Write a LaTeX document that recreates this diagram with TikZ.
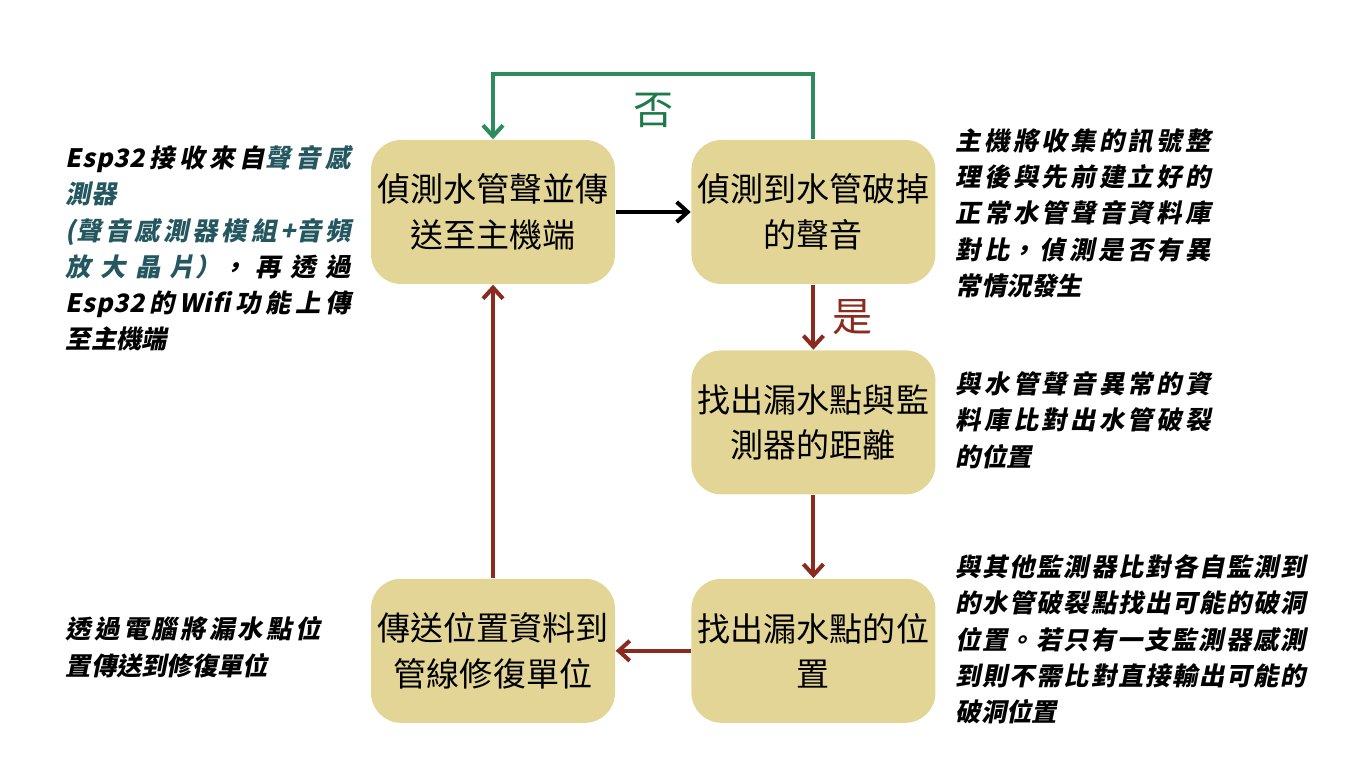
\documentclass[tikz,border=0pt]{standalone}
\usepackage{fontspec}
\usepackage{xcolor}
\usepackage{tikz}
\usetikzlibrary{positioning,arrows.meta}

\newfontfamily\boxfont{Noto Sans CJK TC}
\newfontfamily\notefont[FakeSlant=0.2,LetterSpace=3]{Noto Sans CJK TC}

\definecolor{boxfill}{HTML}{E3D596}
\definecolor{pipered}{HTML}{8B2A1E}
\definecolor{nogreen}{HTML}{2E8B5C}
\definecolor{notext}{HTML}{1F7A4A}
\definecolor{noteteal}{HTML}{24575F}

\XeTeXlinebreaklocale "zh"
\XeTeXlinebreakskip=0pt plus 4pt
\tolerance=9999
\hbadness=10000

\begin{document}
\begin{tikzpicture}[node distance=0.75cm,
    stage/.style={rectangle, rounded corners=0.3cm, fill=boxfill, inner xsep=0.05cm, minimum width=2.44cm, minimum height=1.44cm, align=center, font=\boxfont\fontsize{9.4}{13}\selectfont},
    note/.style={anchor=north west, inner sep=0pt, text width=#1, align=justify, font=\notefont\bfseries\fontsize{7.2}{10.3}\selectfont},
    flow/.style={-{Straight Barb[length=1.1mm,width=2mm]}, line width=1.15pt}]
      \useasboundingbox (0,0) rectangle (13.66,7.68);

      \node (detect) [stage] at (4.93,5.56) {偵測水管聲並傳\\送至主機端};
      \node (broken) [stage, right=0.75cm of detect] {偵測到水管破掉\\的聲音};
      \node (locate) [stage, below=0.65cm of broken] {找出漏水點與監\\測器的距離};
      \node (point) [stage, below=0.83cm of locate] {找出漏水點的位\\置};
      \node (repair) [stage, left=0.75cm of point] {傳送位置資料到\\管線修復單位};

      \draw[flow] (detect) -- (broken);
      \draw[flow, pipered] (broken) -- node[right=0.05cm, text=pipered, font=\boxfont\fontsize{11.4}{13}\selectfont] {是} (locate);
      \draw[flow, pipered] (locate) -- (point);
      \draw[flow, pipered] (point) -- (repair);
      \draw[flow, pipered] (repair) -- (detect);
      \draw[flow, nogreen] (broken.north) -- ++(0,0.65) -| node[pos=0.25, below=0.05cm, text=notext, font=\boxfont\fontsize{11.4}{13}\selectfont] {否} (detect.north);

      \node (espnote) [note=2.85cm] at (0.65,6.23) {Esp32接收來自\textcolor{noteteal}{聲音感\linebreak 測器}\\\textcolor{noteteal}{(聲音感測器模組+音頻\linebreak 放大晶片）}，再透過\linebreak Esp32的Wifi功能上傳\linebreak 至主機端};
      \node (comparenote) [note=2.55cm] at (9.55,6.40) {主機將收集的訊號整\linebreak 理後與先前建立好的\linebreak 正常水管聲音資料庫\linebreak 對比，偵測是否有異\linebreak 常情況發生};
      \node (distnote) [note=2.55cm] at (9.55,3.97) {與水管聲音異常的資\linebreak 料庫比對出水管破裂\linebreak 的位置};
      \node (holenote) [note=3.50cm] at (9.55,2.14) {與其他監測器比對各自監測到\linebreak 的水管破裂點找出可能的破洞\linebreak 位置。若只有一支監測器感測\linebreak 到則不需比對直接輸出可能的\linebreak 破洞位置};
      \node (sendnote) [note=2.55cm] at (0.65,1.52) {透過電腦將漏水點位\linebreak 置傳送到修復單位};
\end{tikzpicture}
\end{document}
